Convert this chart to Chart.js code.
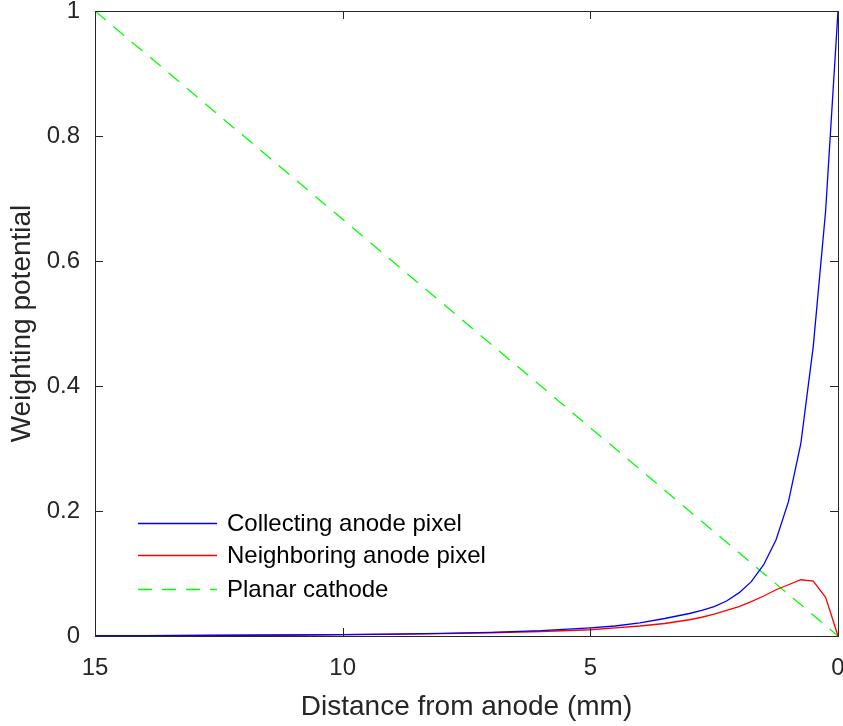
<!DOCTYPE html>
<html>
<head>
<meta charset="utf-8">
<title>Weighting potential</title>
<script src="https://cdn.jsdelivr.net/npm/chart.js@4"></script>
<style>
  body { margin: 0; background: #fff; }
  canvas { display: block; }
</style>
</head>
<body>
<canvas id="wpChart" width="843" height="726"></canvas>
<script>
// distance from the anode in mm
const distance = [0, 0.25, 0.5, 0.75, 1, 1.25, 1.5, 1.75, 2, 2.25, 2.5, 2.75, 3, 3.5, 4, 4.5, 5, 6, 7, 8, 9, 10, 11, 12, 13, 14, 15]
const collecting = [1, 0.68, 0.463, 0.308, 0.215, 0.154, 0.114, 0.087, 0.069, 0.056, 0.047, 0.041, 0.036, 0.028, 0.021, 0.016, 0.013, 0.0085, 0.0058, 0.0041, 0.003, 0.0022, 0.0016, 0.0012, 0.0009, 0.0007, 0.0005]
const neighboring = [0, 0.062, 0.088, 0.09, 0.082, 0.074, 0.064, 0.055, 0.047, 0.041, 0.035, 0.03, 0.026, 0.02, 0.016, 0.013, 0.01, 0.0072, 0.0052, 0.0038, 0.0028, 0.0021, 0.0016, 0.0012, 0.0009, 0.0007, 0.0005]
const cathodeDistance = [15, 0]
const cathode = [1, 0]

const seriesLabels = ["Collecting anode pixel", "Neighboring anode pixel", "Planar cathode"]
const xTicks = [15, 10, 5, 0]
const yTicks = [0, 0.2, 0.4, 0.6, 0.8, 1]

const AXIS_COLOR = "#262626"
const FONT = "'Liberation Sans', Arial, Helvetica, sans-serif"

function toPoints(xs, ys) {
  return xs.map((x, i) => ({ x: x, y: ys[i] }))
}

// box around the plot + inward tick marks on all four sides
const frameAndTicks = {
  id: "frameAndTicks",
  afterDraw(chart) {
    const { ctx, chartArea: a, scales } = chart
    const len = 8
    ctx.save()
    ctx.strokeStyle = AXIS_COLOR
    ctx.lineWidth = 1
    ctx.beginPath()
    xTicks.forEach((v) => {
      const px = Math.round(scales.x.getPixelForValue(v)) + 0.5
      ctx.moveTo(px, a.bottom)
      ctx.lineTo(px, a.bottom - len)
      ctx.moveTo(px, a.top)
      ctx.lineTo(px, a.top + len)
    })
    yTicks.forEach((v) => {
      const py = Math.round(scales.y.getPixelForValue(v)) + 0.5
      ctx.moveTo(a.left, py)
      ctx.lineTo(a.left + len, py)
      ctx.moveTo(a.right, py)
      ctx.lineTo(a.right - len, py)
    })
    ctx.stroke()
    ctx.strokeRect(a.left + 0.5, a.top + 0.5, a.right - a.left, a.bottom - a.top)
    ctx.restore()
  },
}

// legend drawn inside the plot, lower left
const innerLegend = {
  id: "innerLegend",
  afterDatasetsDraw(chart) {
    const { ctx } = chart
    const x0 = 138
    const x1 = 217
    const rows = [523, 555, 589]
    ctx.save()
    chart.data.datasets.forEach((ds, i) => {
      const y = rows[i] + 0.5
      ctx.strokeStyle = ds.borderColor
      ctx.lineWidth = 1.3
      ctx.setLineDash(ds.borderDash || [])
      ctx.beginPath()
      ctx.moveTo(x0, y)
      ctx.lineTo(x1, y)
      ctx.stroke()
      ctx.setLineDash([])
      ctx.fillStyle = "#000"
      ctx.font = "24px " + FONT
      ctx.textBaseline = "middle"
      ctx.textAlign = "left"
      ctx.fillText(ds.label, 227, rows[i] + 1)
    })
    ctx.restore()
  },
}

const wpConfig = {
  type: "line",
  data: {
    datasets: [
      {
        label: seriesLabels[0],
        data: toPoints(distance, collecting),
        borderColor: "#0000ff",
        borderWidth: 1.3,
        pointRadius: 0,
        tension: 0,
      },
      {
        label: seriesLabels[1],
        data: toPoints(distance, neighboring),
        borderColor: "#ff0000",
        borderWidth: 1.3,
        pointRadius: 0,
        tension: 0,
      },
      {
        label: seriesLabels[2],
        data: toPoints(cathodeDistance, cathode),
        borderColor: "#00ff00",
        borderWidth: 1.3,
        borderDash: [14, 10],
        pointRadius: 0,
        tension: 0,
      },
    ],
  },
  options: {
    responsive: false,
    animation: false,
    layout: { padding: { top: 11, right: 5, left: 0, bottom: 0 } },
    plugins: {
      legend: { display: false },
      tooltip: { enabled: false },
    },
    scales: {
      x: {
        type: "linear",
        reverse: true,
        min: 0,
        max: 15,
        afterBuildTicks: (scale) => {
          scale.ticks = xTicks.map((v) => ({ value: v }))
        },
        afterFit: (scale) => {
          scale.height = 90
          scale.paddingLeft = 0
          scale.paddingRight = 0
        },
        grid: { display: false, drawTicks: false },
        border: { display: false },
        ticks: {
          color: AXIS_COLOR,
          font: { family: FONT, size: 24 },
          padding: 18,
          maxRotation: 0,
          callback: (v) => String(v),
        },
        title: {
          display: true,
          text: "Distance from anode (mm)",
          color: AXIS_COLOR,
          font: { family: FONT, size: 28 },
          padding: { top: 0, bottom: 2 },
        },
      },
      y: {
        type: "linear",
        min: 0,
        max: 1,
        afterBuildTicks: (scale) => {
          scale.ticks = yTicks.map((v) => ({ value: v }))
        },
        afterFit: (scale) => {
          scale.width = 95
          scale.paddingTop = 0
          scale.paddingBottom = 0
        },
        grid: { display: false, drawTicks: false },
        border: { display: false },
        ticks: {
          color: AXIS_COLOR,
          font: { family: FONT, size: 24 },
          padding: 15,
          callback: (v) => String(v),
        },
        title: {
          display: true,
          text: "Weighting potential",
          color: AXIS_COLOR,
          font: { family: FONT, size: 28 },
          padding: { top: 5, bottom: 0 },
        },
      },
    },
  },
  plugins: [frameAndTicks, innerLegend],
}

const wpChart = new Chart(document.getElementById("wpChart"), wpConfig)
</script>
</body>
</html>
